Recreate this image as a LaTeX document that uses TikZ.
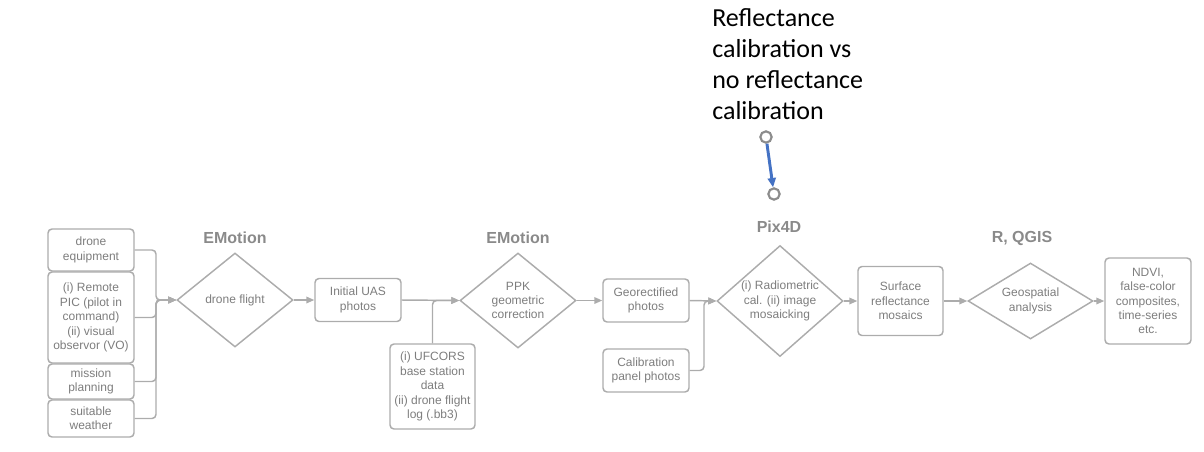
\documentclass[tikz,border=0pt]{standalone}
\usepackage{fontspec}
\setmainfont{Liberation Sans}
\newfontfamily\notefont{Carlito}
\usetikzlibrary{shapes.geometric,arrows.meta}
\definecolor{linegray}{RGB}{172,172,172}
\definecolor{textgray}{RGB}{125,125,125}
\definecolor{labelgray}{RGB}{138,138,138}
\definecolor{ringgray}{RGB}{140,140,140}
\definecolor{arrowblue}{RGB}{68,114,196}

\begin{document}
\begin{tikzpicture}[x=0.75pt, y=-0.75pt,
	box/.style={rectangle, rounded corners=3pt, draw=linegray, line width=1.1pt, text=textgray, align=center, font=\fontsize{9}{10.8}\selectfont, inner sep=0pt, minimum width=64.5pt},
	decision/.style={diamond, draw=linegray, line width=1.1pt, text=textgray, align=center, font=\fontsize{9}{10.8}\selectfont, inner sep=0pt},
	tool/.style={text=labelgray, font=\bfseries\fontsize{12}{14}\selectfont},
	flow/.style={-{Triangle[length=6pt,width=5pt]}, draw=linegray, line width=1.1pt, rounded corners=3pt},
	endpoint/.style={circle, draw=ringgray, fill=white, line width=1.6pt, minimum size=8.5pt, inner sep=0pt}]

		\useasboundingbox (0,0) rectangle (1204,451);

		\node[box, minimum height=31.5pt](equipment) at (91,250){drone\\equipment};
		\node[box, minimum height=68.25pt](pilot) at (91,317.5){(i) Remote\\PIC (pilot in\\command)\\(ii) visual\\observor (VO)};
		\node[box, minimum height=26.25pt](planning) at (91,381.5){mission\\planning};
		\node[box, minimum height=27.75pt](weather) at (91,418.5){suitable\\weather};

		\node[decision, aspect=1.23, minimum width=87pt, minimum height=70.5pt](flight) at (235,300){drone flight};
		\node[tool](emotionone) at (235,238){EMotion};
		\node[box, minimum height=32.25pt](initial) at (358,300){Initial UAS\\photos};
		\node[box, minimum width=63.75pt, minimum height=63.75pt](ufcors) at (432.5,386.5){(i) UFCORS\\base station\\data\\(ii) drone flight\\log (.bb3)};

		\node[decision, aspect=1.22, minimum width=87pt, minimum height=71.25pt](ppk) at (518,300.5){PPK\\geometric\\correction};
		\node[tool](emotiontwo) at (518,238){EMotion};
		\node[box, minimum height=32.25pt](geo) at (646,300.5){Georectified\\photos};
		\node[box, minimum height=32.25pt](panel) at (646,370.5){Calibration\\panel photos};

		\node[decision, aspect=1.135, minimum width=94.5pt, minimum height=83.25pt](pix) at (780,301){(i) Radiometric\\cal. (ii) image\\mosaicking};
		\node[tool](pixfour) at (779,227){Pix4D};
		\node[box, minimum width=63.75pt, minimum height=51.75pt](surface) at (900.5,301){Surface\\reflectance\\mosaics};

		\node[decision, aspect=1.64, minimum width=93.75pt, minimum height=57pt](analysis) at (1030.5,301){Geospatial\\analysis};
		\node[tool](rqgis) at (1022,238){R, QGIS};
		\node[box, minimum height=64.5pt](ndvi) at (1148,301){NDVI,\\false-color\\composites,\\time-series\\etc.};

		\node[anchor=north west, align=left, inner sep=0pt, font=\notefont\fontsize{19.5}{23.3}\selectfont](note) at (712,8.5){Reflectance\\calibration vs\\no reflectance\\calibration};
		\node[endpoint](start) at (766,137){};
		\node[endpoint](finish) at (774,194){};

		\coordinate (merge) at (156,300);
		\coordinate (join) at (704,301);

		\draw [flow] (equipment.east) -| (merge) -- (flight.west);
		\draw [flow] (pilot.east) -| (merge) -- (flight.west);
		\draw [flow] (planning.east) -| (merge) -- (flight.west);
		\draw [flow] (weather.east) -| (merge) -- (flight.west);
		\draw [flow] (flight.east) -- (initial.west);
		\draw [flow] (initial.east) -- (ppk.west);
		\draw [flow] (ufcors.north) |- (ppk.west);
		\draw [flow] (ppk.east) -- (geo.west);
		\draw [flow] (geo.east) -- (pix.west);
		\draw [flow] (panel.east) -| (join) -- (pix.west);
		\draw [flow] (pix.east) -- (surface.west);
		\draw [flow] (surface.east) -- (analysis.west);
		\draw [flow] (analysis.east) -- (ndvi.west);
		\draw [-{Triangle[length=7pt,width=6pt]}, draw=arrowblue, fill=arrowblue, line width=2.2pt] (start) -- (finish);

	\end{tikzpicture}
\end{document}
